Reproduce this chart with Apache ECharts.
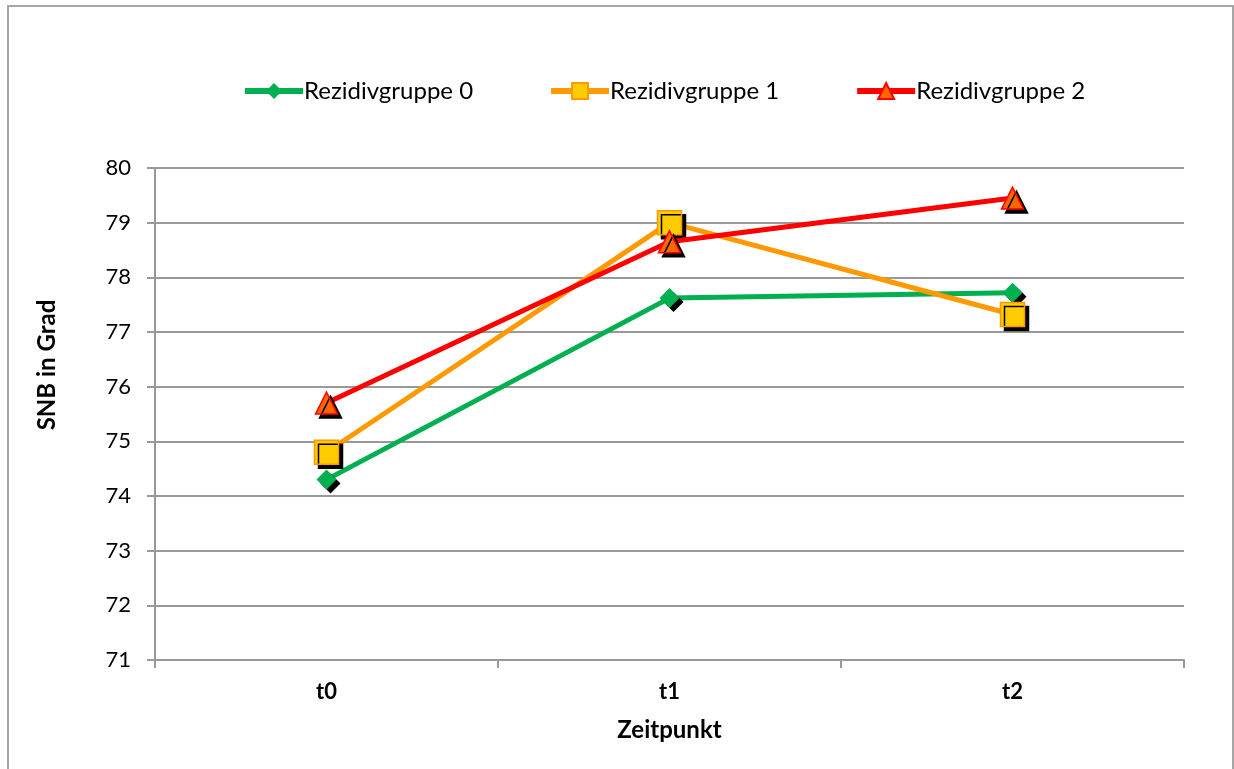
<!DOCTYPE html>
<html><head><meta charset="utf-8">
<script src="https://cdn.jsdelivr.net/npm/echarts@6/dist/echarts.min.js"></script>
<style>html,body{margin:0;padding:0;background:#fff}#c{width:1234px;height:769px}</style>
</head><body><div id="c"></div>
<script>
const categories = ['t0', 't1', 't2'];
const group0 = [74.3, 77.62, 77.72];
const group1 = [74.8, 79.0, 77.32];
const group2 = [75.7, 78.65, 79.45];
const seriesNames = ['Rezidivgruppe 0', 'Rezidivgruppe 1', 'Rezidivgruppe 2'];

const FONT = 'Lato';
const chart = echarts.init(document.getElementById('c'));
const shadow = {shadowColor: '#000', shadowOffsetX: 4, shadowOffsetY: 4, shadowBlur: 0};
chart.setOption({
  backgroundColor: '#fff',
  animation: false,
  textStyle: {fontFamily: FONT},
  graphic: [{type: 'rect', shape: {x: 8, y: 6, width: 1225, height: 770},
    style: {fill: 'none', stroke: '#a6a6a6', lineWidth: 2}, silent: true}],
  legend: {
    top: 74, left: 237, itemGap: 75, itemWidth: 58, itemHeight: 20,
    lineStyle: {width: 6},
    textStyle: {fontSize: 24, color: '#000', fontFamily: FONT, padding: [0,0,0,-4]},
    data: seriesNames
  },
  grid: {left: 155, right: 50, top: 168, bottom: 109},
  xAxis: {
    type: 'category', data: categories, boundaryGap: true,
    axisLine: {lineStyle: {color: '#999', width: 2}},
    axisTick: {show: true, length: 8, lineStyle: {color: '#999', width: 2}},
    axisLabel: {fontSize: 22, fontWeight: 'bold', color: '#000', margin: 21},
    name: 'Zeitpunkt', nameLocation: 'middle', nameGap: 58,
    nameTextStyle: {fontSize: 24, fontWeight: 'bold', color: '#000'}
  },
  yAxis: {
    type: 'value', min: 71, max: 80, interval: 1,
    axisLine: {show: true, lineStyle: {color: '#999', width: 2}},
    axisTick: {show: true, length: 8, lineStyle: {color: '#999', width: 2}},
    splitLine: {lineStyle: {color: '#999', width: 2}},
    axisLabel: {fontSize: 22, color: '#000', margin: 24},
    name: 'SNB in Grad', nameLocation: 'middle', nameGap: 96,
    nameTextStyle: {fontSize: 24, fontWeight: 'bold', color: '#000', padding: [0, 0, 0, 98]}
  },
  series: [
    {name: seriesNames[0], type: 'line', data: group0, symbol: 'diamond', symbolSize: 20,
     lineStyle: {color: '#00B050', width: 5}, itemStyle: Object.assign({color: '#00B050'}, shadow), z: 3},
    {name: seriesNames[1], type: 'line', data: group1, symbol: 'rect', symbolSize: 24,
     lineStyle: {color: '#FF9900', width: 5}, itemStyle: Object.assign({color: '#FFCC00', borderColor: '#FF9900', borderWidth: 1.5}, shadow), z: 4},
    {name: seriesNames[2], type: 'line', data: group2, symbol: 'triangle', symbolSize: 22,
     lineStyle: {color: '#FF0000', width: 5}, itemStyle: Object.assign({color: '#FF6600', borderColor: '#FF0000', borderWidth: 1.5}, shadow), z: 5}
  ]
});
</script></body></html>
